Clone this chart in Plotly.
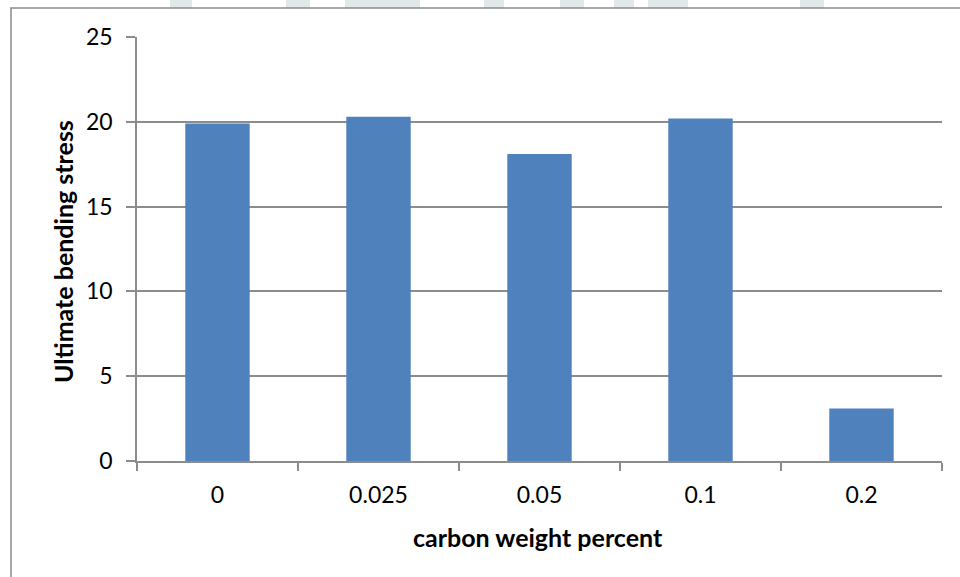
import plotly.graph_objects as go

# Flexural test results by carbon content
carbon_pct = ["0", "0.025", "0.05", "0.1", "0.2"]
bending_stress = [19.9, 20.3, 18.1, 20.2, 3.1]
y_ticks = [0, 5, 10, 15, 20, 25]

W, H = 960, 577
L, R, T, B = 137, 18, 37, 116
pw, ph = W - L - R, H - T - B


def px_x(x):
    return (x - L) / pw


def px_y(y):
    return (H - B - y) / ph


GRID = "#8c8c8c"
FONT = "Lato, 'Open Sans', sans-serif"

fig = go.Figure(
    go.Bar(
        x=carbon_pct,
        y=bending_stress,
        marker=dict(color="#4f81bd", line=dict(width=0)),
        hoverinfo="x+y",
    )
)

shapes = []
# faint page watermark peeking above the chart frame
for x0, x1 in [(170, 192), (286, 310), (345, 420), (484, 504), (560, 584),
               (614, 634), (648, 688), (800, 824)]:
    shapes.append(dict(type="rect", xref="paper", yref="paper",
                       x0=px_x(x0), x1=px_x(x1), y0=px_y(8), y1=px_y(-2),
                       fillcolor="#e1e8ea", line=dict(width=0), layer="below"))
# chart frame
shapes.append(dict(type="rect", xref="paper", yref="paper",
                   x0=px_x(11), x1=px_x(975), y0=px_y(600), y1=px_y(8),
                   fillcolor="rgba(0,0,0,0)", line=dict(color="#8a8a8a", width=1.5)))

fig.update_layout(
    width=W, height=H,
    margin=dict(l=L, r=R, t=T, b=B, pad=0),
    paper_bgcolor="white", plot_bgcolor="white",
    bargap=0.6,
    showlegend=False,
    font=dict(family=FONT, color="#000000", size=23),
    shapes=shapes,
    annotations=[
        dict(text="<b>Ultimate bending stress</b>", xref="paper", yref="paper",
             x=px_x(63), y=px_y(252), textangle=-90, showarrow=False,
             xanchor="center", yanchor="middle",
             font=dict(family=FONT, size=25, color="#000000")),
        dict(text="<b>carbon weight percent</b>", xref="paper", yref="paper",
             x=px_x(538), y=px_y(537), showarrow=False,
             xanchor="center", yanchor="middle",
             font=dict(family=FONT, size=25, color="#000000")),
    ],
)

fig.update_xaxes(
    type="category",
    showgrid=False,
    showline=True, linecolor=GRID, linewidth=1.5,
    ticks="outside", tickson="boundaries", ticklen=8, tickwidth=1.5, tickcolor=GRID,
    tickfont=dict(size=23, family=FONT),
    ticklabelstandoff=13,
)
fig.update_yaxes(
    range=[0, 25],
    tickvals=y_ticks,
    showgrid=True, gridcolor=GRID, gridwidth=1.5,
    zeroline=False,
    showline=True, linecolor=GRID, linewidth=1.5,
    ticks="outside", ticklen=9, tickwidth=1.5, tickcolor=GRID,
    tickfont=dict(size=23, family=FONT),
    ticklabelstandoff=9,
)

fig.write_html("out.html")
